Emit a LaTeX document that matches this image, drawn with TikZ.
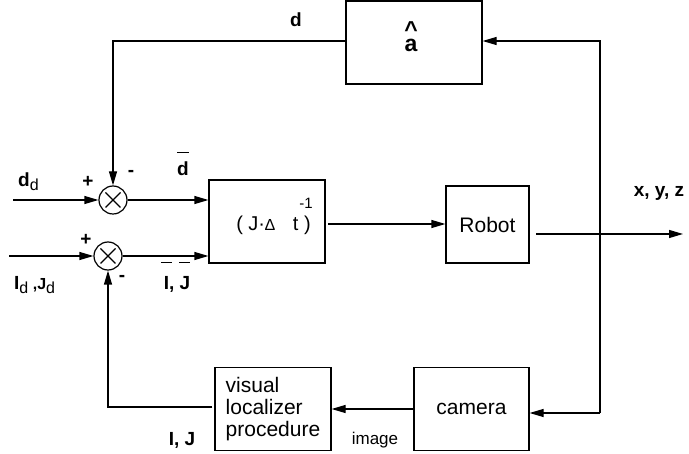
\documentclass[tikz,border=0pt]{standalone}
\usepackage{fontspec}
\setmainfont{Liberation Sans}
\usetikzlibrary{arrows.meta,calc}
\newcommand\normfnt{\fontsize{21}{22}\selectfont}
\newcommand\bfnt{\fontsize{19}{21}\selectfont\bfseries}
\newcommand\subfnt{\fontsize{16}{18}\selectfont\mdseries}
\newcommand\barover[3]{\setbox0\hbox{#1}\hbox to\wd0{\hss\raisebox{#2}{\makebox[0pt]{\rule{#3}{1pt}}}\hss}\kern-\wd0\box0}
\tikzset{
  con/.style={line width=1.2pt},
  arr/.style={con, -{Triangle[length=14pt,width=8pt]}},
  blk/.style={draw, line width=1.2pt, inner sep=0pt, font=\normfnt},
  sumc/.style={circle, draw, line width=1.2pt, minimum size=28pt, inner sep=0pt},
  lbl/.style={font=\bfnt, inner sep=0pt},
  txt/.style={font=\normfnt, inner sep=0pt},
}
\begin{document}
\begin{tikzpicture}[x=1pt,y=-1pt]
\useasboundingbox (0,0) rectangle (689,454);
% blocks
\node[blk, minimum width=136pt, minimum height=83pt] (ahat) at (414,42.5) {};
\node[lbl, font=\fontsize{23}{24}\selectfont\bfseries, align=center, anchor=south] (ahatlbl) at (411,52) {\textasciicircum\\[-10pt]a};
\node[blk, minimum width=116pt, minimum height=83pt] (J) at (267,221.5) {};
\node[txt, font=\fontsize{20}{22}\selectfont] (Jtxt) at (273.5,225) {( J·{\fontsize{16}{16}\selectfont∆}\hspace{18pt}t )};
\node[txt, font=\fontsize{15}{16}\selectfont] (Jexp) at (306,203) {-1};
\node[blk, minimum width=83pt, minimum height=77pt] (robot) at (487.5,224.5) {Robot};
\node[blk, minimum width=115pt, minimum height=83pt] (camera) at (471.5,409) {camera};
\node[blk, minimum width=116pt, minimum height=83pt, align=left] (visual) at (273,409) {visual\\localizer\\procedure};
% summing junctions
\node[sumc] (sum1) at (113,200) {};
\node[sumc] (sum2) at (108,256) {};
\foreach \s in {sum1,sum2}{
  \draw[con] ($(\s.center)+(-7.5,-7.5)$) -- ($(\s.center)+(7.5,7.5)$);
  \draw[con] ($(\s.center)+(-7.5,7.5)$) -- ($(\s.center)+(7.5,-7.5)$);
}
% free ends
\coordinate (in1) at (13,200);
\coordinate (in2) at (9,256);
\coordinate (top) at (600,41);
\coordinate (bot) at (600,413);
\coordinate (robout) at (536,234);
\coordinate (out) at (683,234);
\coordinate (jout) at (328,224);
% connectors
\draw[arr] (top -| ahat.west) -| (sum1.north);
\draw[arr] (in1) -- (sum1.west);
\draw[arr] (in2) -- (sum2.west);
\draw[arr] (sum1.east) -- (sum1.east -| J.west);
\draw[arr] (sum2.east) -- (sum2.east -| J.west);
\draw[arr] (jout) -- (jout -| robot.west);
\draw[arr] (robout) -- (out);
\draw[arr] (bot) -- (top) -- (top -| ahat.east);
\draw[arr] (bot) -- (bot -| camera.east);
\draw[arr] (camera.west) -- (visual.east);
\draw[arr] ($(visual.west)+(-2,-2)$) -| (sum2.south);
% labels
\node[lbl] (ld) at (296,20) {d};
\node[lbl, anchor=base west] (ldd) at (18,187) {d\subfnt\raisebox{-4pt}{d}};
\node[lbl] (p1) at (88,182) {+};
\node[lbl] (m1) at (131,173) {-};
\node[lbl] (p2) at (86,240) {+};
\node[lbl] (m2) at (122,278) {-};
\node[lbl, anchor=base] (dbar) at (183,176) {\barover{d}{23pt}{12pt}};
\node[lbl, anchor=base] (IJbar) at (177,290) {\barover{I}{27pt}{11pt}, \barover{J}{27pt}{11pt}};
\node[lbl, anchor=base west] (IdJd) at (14,290) {I\subfnt\raisebox{-4pt}{d}\bfseries\ ,J\subfnt\raisebox{-4pt}{d}};
\node[lbl] (IJ) at (182,440) {I, J};
\node[txt, font=\fontsize{17}{18}\selectfont] (img) at (375,440) {image};
\node[lbl] (xyz) at (659,193) {x, y, z};
\end{tikzpicture}
\end{document}
